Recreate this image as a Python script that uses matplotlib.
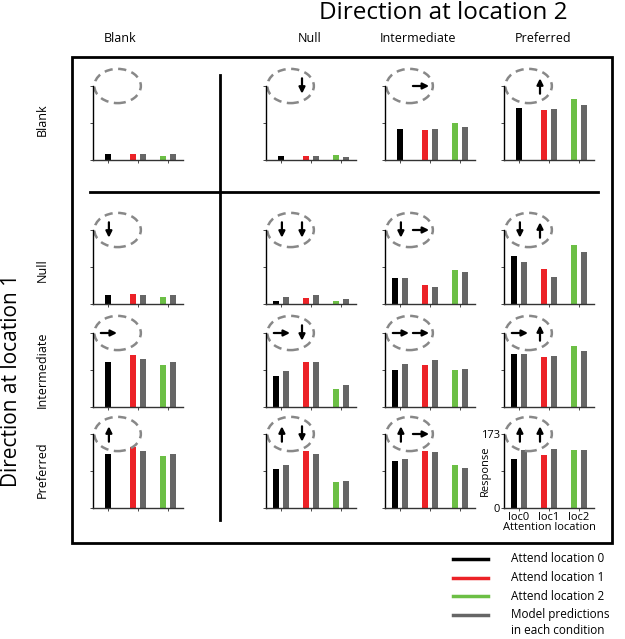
import numpy as np
import matplotlib
matplotlib.use('Agg')
import matplotlib.pyplot as plt
from matplotlib.patches import Ellipse, Rectangle
from matplotlib.lines import Line2D

plt.rcParams['font.family'] = ['Open Sans', 'DejaVu Sans']

nan = np.nan
directions = ['Blank', 'Null', 'Intermediate', 'Preferred']
arrow_dir = [None, 'down', 'right', 'up']
loc_labels = ['loc0', 'loc1', 'loc2']

# rows = direction at location 1, columns = direction at location 2
att0 = [[14, 9, 72, 121], [21, 8, 61, 112], [106, 72, 87, 123], [127, 92, 109, 115]]
att1 = [[13, 10, 71, 118], [23, 15, 44, 82], [122, 105, 98, 116], [142, 133, 133, 123]]
att2 = [[10, 11, 87, 143], [16, 7, 79, 138], [98, 42, 87, 142], [121, 60, 101, 135]]
model0 = [[nan, nan, nan, nan], [nan, 16, 60, 98], [nan, 84, 100, 125], [nan, 100, 114, 136]]
model1 = [[13, 9, 72, 120], [21, 20, 40, 62], [112, 106, 110, 119], [134, 127, 130, 139]]
model2 = [[13, 7, 76, 129], [21, 12, 74, 122], [106, 51, 89, 131], [127, 62, 94, 135]]

ymax = 173
colors = ['#000000', '#ec2227', '#6cbf45']
gray = '#666666'

W, H = 625, 639
def fx(x): return x / W
def fy(y): return 1 - y / H

fig = plt.figure(figsize=(6.25, 6.39), dpi=100)

col_left = [93, 266, 385, 504]
row_base = [160, 304, 407, 508]
pw, ph = 90, 74

def draw_arrow(ax, x, d):
    props = dict(arrowstyle='-|>', color='k', lw=1.6, mutation_scale=9, shrinkA=0, shrinkB=0)
    if d == 'down':
        ax.annotate('', xy=(x, ymax - 18), xytext=(x, ymax + 18), arrowprops=props,
                    annotation_clip=False)
    elif d == 'up':
        ax.annotate('', xy=(x, ymax + 18), xytext=(x, ymax - 18), arrowprops=props,
                    annotation_clip=False)
    elif d == 'right':
        ax.annotate('', xy=(x + 0.27, ymax), xytext=(x - 0.27, ymax), arrowprops=props,
                    annotation_clip=False)

for r in range(4):
    for c in range(4):
        ax = fig.add_axes([fx(col_left[c]), fy(row_base[r]), pw / W, ph / H])
        vals = [att0[r][c], att1[r][c], att2[r][c]]
        mods = [model0[r][c], model1[r][c], model2[r][c]]
        for g in range(3):
            center = 0.5 + g
            if np.isnan(mods[g]):
                ax.bar(center, vals[g], width=0.2, color=colors[g])
            else:
                ax.bar(center - 1 / 6, vals[g], width=0.2, color=colors[g])
                ax.bar(center + 1 / 6, mods[g], width=0.2, color=gray)
        ax.set_xlim(0, 3)
        ax.set_ylim(0, ymax)
        for s in ['top', 'right']:
            ax.spines[s].set_visible(False)
        ax.spines['left'].set_linewidth(1)
        ax.spines['bottom'].set_linewidth(1)
        ax.spines['bottom'].set_color('#333333')
        ax.set_xticks([0.5, 1.5, 2.5])
        ax.set_yticks([0, ymax / 2, ymax])
        ax.tick_params(length=2, width=0.5, labelsize=8, pad=1)
        if r == 3 and c == 3:
            ax.set_yticklabels(['0', '', '173'])
            ax.set_xticklabels(loc_labels)
            ax.set_ylabel('Response', fontsize=8, labelpad=-7)
            ax.set_xlabel('Attention location', fontsize=8, labelpad=-1)
        else:
            ax.set_xticklabels([])
            ax.set_yticklabels([])
        ell = Ellipse((0.82, ymax), 1.55, 80, fill=False, edgecolor='#888888',
                      lw=1.8, ls=(0, (3.3, 2.2)), clip_on=False)
        ax.add_patch(ell)
        draw_arrow(ax, 0.53, arrow_dir[r])
        draw_arrow(ax, 1.2, arrow_dir[c])

# frame and separators
fig.add_artist(Rectangle((fx(72), fy(543)), (612 - 72) / W, (543 - 57) / H,
                         transform=fig.transFigure, fill=False, lw=2, edgecolor='k'))
fig.add_artist(Line2D([fx(220), fx(220)], [fy(75), fy(520)], transform=fig.transFigure,
                      color='k', lw=2))
fig.add_artist(Line2D([fx(90), fx(598)], [fy(192), fy(192)], transform=fig.transFigure,
                      color='k', lw=2))

# labels
fig.text(fx(443), fy(13), 'Direction at location 2', fontsize=17.5, ha='center', va='center')
for c, x in enumerate([120, 310, 418, 543]):
    fig.text(fx(x), fy(38), directions[c], fontsize=9, ha='center', va='center')
for r, y in enumerate([120, 270, 370, 470]):
    fig.text(fx(42), fy(y), directions[r], fontsize=9, ha='center', va='center', rotation=90)
fig.text(fx(12), fy(380), 'Direction at location 1', fontsize=15, ha='center', va='center',
         rotation=90)

# legend
leg_labels = ['Attend location 0', 'Attend location 1', 'Attend location 2', 'Model predictions']
leg_colors = colors + [gray]
for i, (lab, col) in enumerate(zip(leg_labels, leg_colors)):
    y = 559 + 18.5 * i
    fig.add_artist(Line2D([fx(453), fx(488)], [fy(y), fy(y)], transform=fig.transFigure,
                          color=col, lw=2.5))
    fig.text(fx(511), fy(y), lab, fontsize=8.5, ha='left', va='center')
fig.text(fx(511), fy(631), 'in each condition', fontsize=8.5, ha='left', va='center')

fig.savefig('out.png', dpi=100)
